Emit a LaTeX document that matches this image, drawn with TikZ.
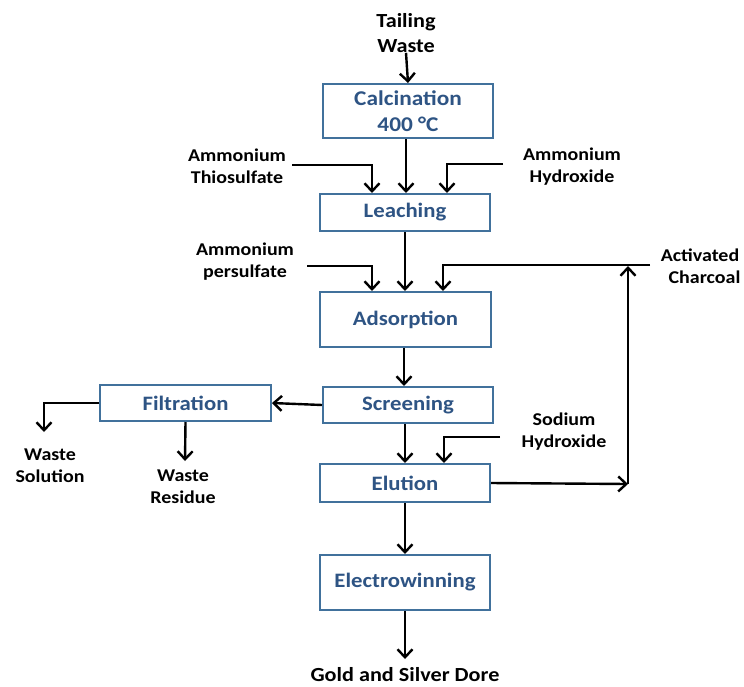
\documentclass[tikz,border=0pt]{standalone}
\usepackage{fontspec}
\setmainfont{Carlito}[FakeStretch=1.11]
\usetikzlibrary{arrows.meta}
\definecolor{boxline}{RGB}{65,113,156}
\definecolor{boxtext}{RGB}{46,84,132}
\tikzset{
  procbox/.style={draw=boxline, line width=2pt, fill=white, inner sep=0pt, font=\fontsize{20.5}{24}\selectfont\bfseries, text=boxtext},
  lbl/.style={align=center, font=\fontsize{18}{22}\selectfont\bfseries, text=black, inner sep=0pt},
  flow/.style={line width=2.4pt, -{Straight Barb[length=8pt,width=15pt,line width=2.4pt]}},
  plain/.style={line width=2.4pt}
}
\begin{document}
\begin{tikzpicture}[x=1pt,y=-1pt]
\useasboundingbox (0,0) rectangle (744,686);
% boxes
\node[procbox, minimum width=170pt, minimum height=54pt, align=center, font=\fontsize{21}{26}\selectfont\bfseries] (calc) at (408,111) {Calcination\\400 °C};
\node[procbox, minimum width=170pt, minimum height=37pt] (leach) at (405,212.5) {Leaching};
\node[procbox, minimum width=171pt, minimum height=55pt] (ads) at (405.5,319.5) {Adsorption};
\node[procbox, minimum width=170pt, minimum height=36pt] (scr) at (408,405) {Screening};
\node[procbox, minimum width=170pt, minimum height=38pt] (elu) at (405,483) {Elution};
\node[procbox, minimum width=170pt, minimum height=55pt] (elec) at (405,582.5) {Electrowinning};
\node[procbox, minimum width=171pt, minimum height=36pt] (filt) at (185.5,403) {Filtration};
% labels
\node[lbl, font=\fontsize{20}{25}\selectfont\bfseries] (tail) at (406,33) {Tailing\\Waste};
\node[lbl] (thio) at (237,166) {Ammonium\\Thiosulfate};
\node[lbl] (hydr) at (572,167) {Ammonium\\Hydroxide};
\node[lbl] (pers) at (245,262) {Ammonium\\persulfate};
\node[lbl] (char) at (700,266) {Activated\\\ \ Charcoal};
\node[lbl] (sodh) at (564,432) {Sodium\\Hydroxide};
\node[lbl] (wsol) at (50,466) {Waste\\Solution};
\node[lbl] (wres) at (183,487) {Waste\\Residue};
\node[lbl, font=\fontsize{20}{24}\selectfont\bfseries, anchor=base] (gold) at (405,681) {Gold and Silver Dore};
% coordinates
\coordinate (thioS) at (292,165);
\coordinate (hydrS) at (503,164);
\coordinate (persS) at (307,266);
\coordinate (charS) at (650,265);
\coordinate (sodS) at (500,437);
\coordinate (corner) at (628,484);
\coordinate (wsolT) at (44,432);
\coordinate (wresT) at (185,461);
% flows
\draw[flow] (tail.south) -- (calc.north);
\draw[flow] (calc.south -| 406,0) -- (leach.north -| 406,0);
\draw[flow] (thioS) -| (leach.north -| 372,0);
\draw[flow] (hydrS) -| (leach.north -| 447,0);
\draw[flow] (leach.south) -- (ads.north -| leach.south);
\draw[flow] (persS) -| (ads.north -| 372,0);
\draw[flow] (charS) -| (ads.north -| 443,0);
\draw[flow] (ads.south -| 404,0) -- (scr.north -| 404,0);
\draw[flow] (scr.west) -- (filt.east);
\draw[flow] (filt.west) -| (wsolT);
\draw[flow] (filt.south) -- (wresT);
\draw[flow] (scr.south -| 405,0) -- (elu.north -| 405,0);
\draw[flow] (sodS) -| (elu.north -| 444,0);
\draw[flow] (elu.east) -- (corner);
\draw[flow] (corner) -- (628,266);
\draw[flow] (elu.south) -- (elec.north);
\draw[flow] (elec.south) -- (405,659);
\end{tikzpicture}
\end{document}
